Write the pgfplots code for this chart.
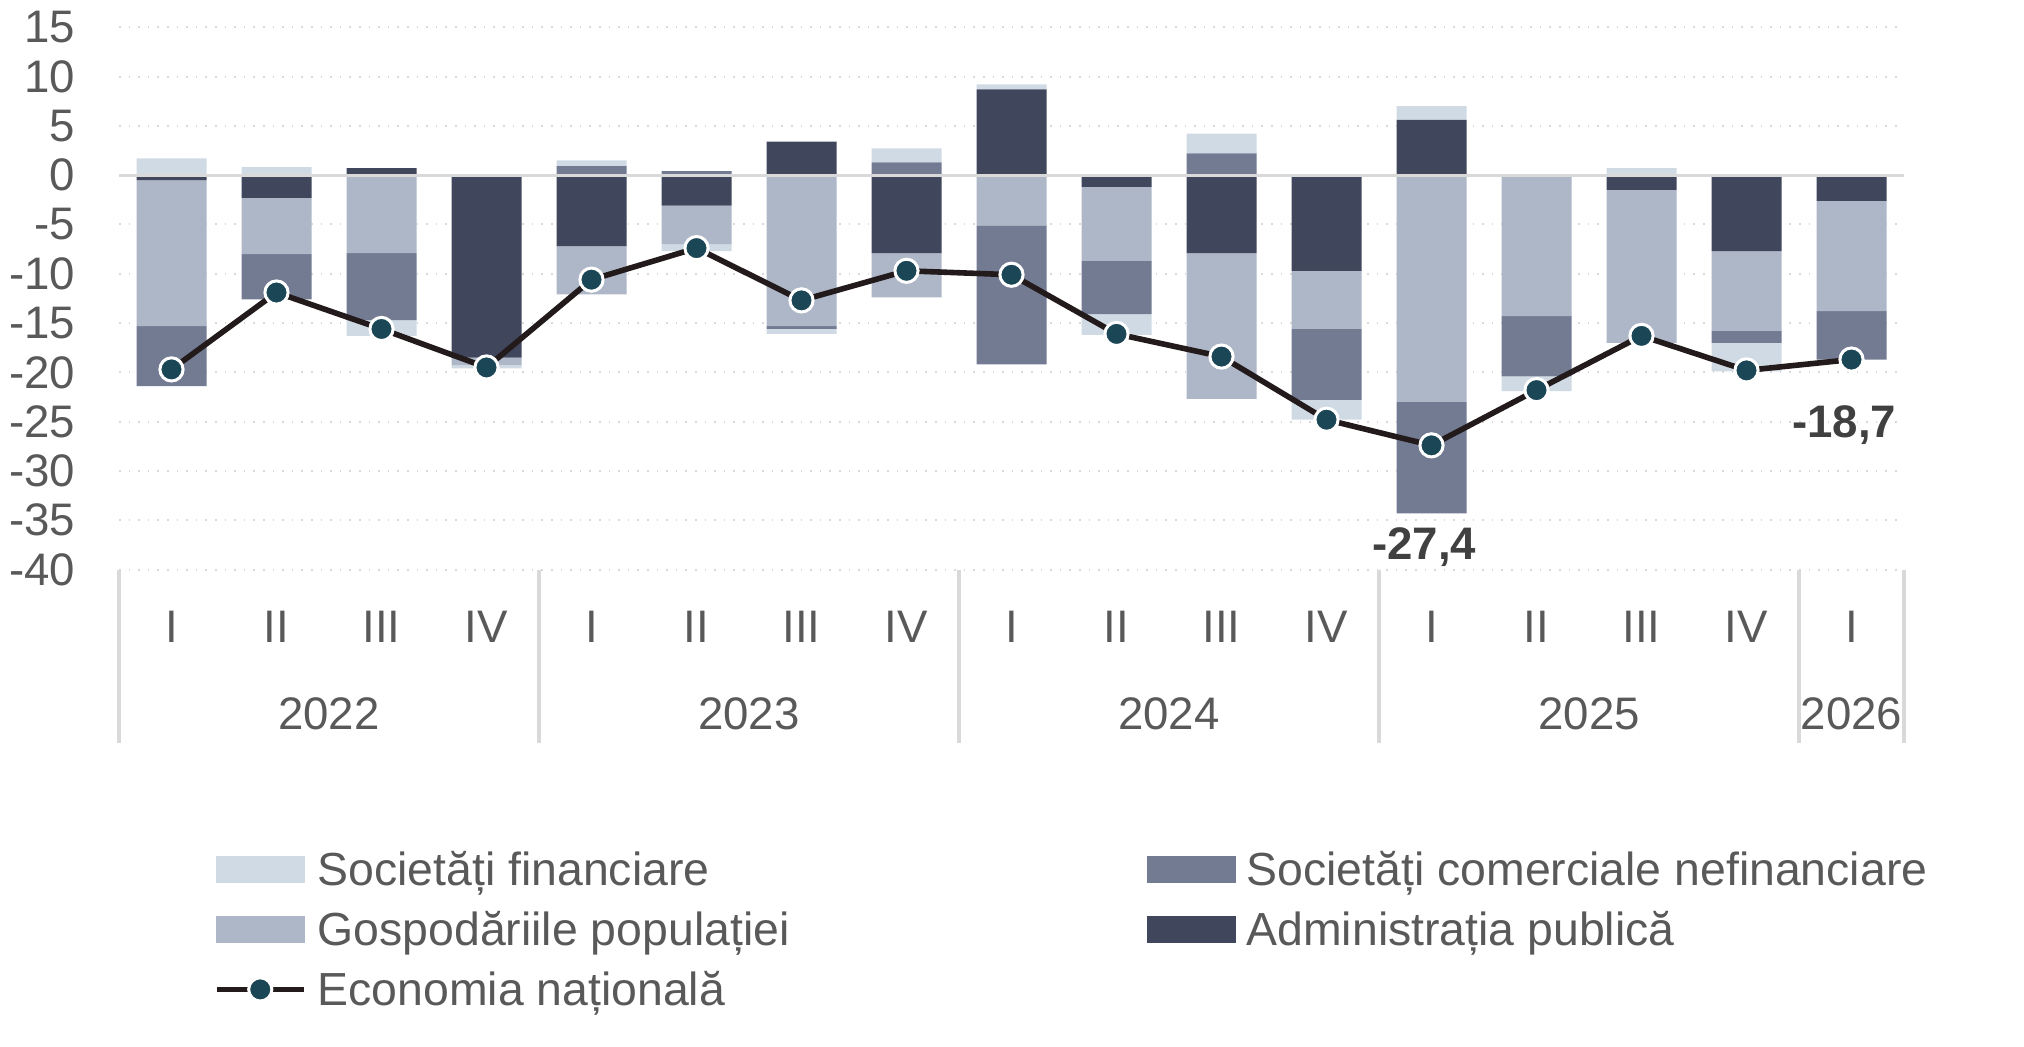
\documentclass[border=0pt]{standalone}
\usepackage{fontspec}
\setmainfont{Liberation Sans}
\usepackage{pgfplots}
\pgfplotsset{compat=1.18}
\usepackage{pgfplotstable}

\definecolor{fincol}{HTML}{D0DAE4}
\definecolor{hhcol}{HTML}{AEB7C7}
\definecolor{nonfincol}{HTML}{737B93}
\definecolor{admincol}{HTML}{40465B}
\definecolor{linecol}{HTML}{231A1B}
\definecolor{markcol}{HTML}{1B4655}
\definecolor{gridcol}{HTML}{D9D9D9}
\definecolor{textcol}{HTML}{595959}
\definecolor{labelcol}{HTML}{404040}
\newcommand{\tickfont}{\fontsize{11.4}{13.5}\selectfont}
\newcommand{\legfont}{\fontsize{11.6}{13.5}\selectfont}

% negative parts of each sector's contribution
\pgfplotstableread{
x fin nonfin hh admin
0 0 -6.1 -14.8 -0.5
1 0 -4.6 -5.7 -2.3
2 -1.6 -6.8 -7.9 0
3 -0.3 0 -0.8 -18.5
4 0 0 -4.9 -7.2
5 -0.7 0 -3.9 -3.1
6 -0.5 -0.3 -15.3 0
7 0 0 -4.5 -7.9
8 0 -14.1 -5.1 0
9 -2.1 -5.4 -7.5 -1.2
10 0 0 -14.8 -7.9
11 -2.0 -7.2 -5.9 -9.7
12 0 -11.3 -23.0 0
13 -1.5 -6.1 -14.3 0
14 0 0 -15.5 -1.5
15 -2.9 -1.2 -8.1 -7.7
16 0 -4.9 -11.2 -2.6
}\negtab

% positive parts
\pgfplotstableread{
x fin nonfin hh admin
0 1.7 0 0 0
1 0.8 0 0 0
2 0 0 0 0.7
3 0 0 0 0
4 0.6 0.9 0 0
5 0 0.4 0 0
6 0 0 0 3.4
7 1.4 1.3 0 0
8 0.5 0 0 8.7
9 0 0 0 0
10 2.0 2.2 0 0
11 0 0 0 0
12 1.4 0 0 5.6
13 0 0 0 0
14 0.7 0 0 0
15 0 0 0 0
16 0 0 0 0
}\postab

\pgfplotstableread{
x y
0 -19.7
1 -11.9
2 -15.6
3 -19.5
4 -10.6
5 -7.4
6 -12.7
7 -9.7
8 -10.1
9 -16.1
10 -18.4
11 -24.8
12 -27.4
13 -21.8
14 -16.3
15 -19.8
16 -18.7
}\totaltab

\pgfplotsset{
  base/.style={scale only axis, width=446.25pt, height=135.6pt,
    at={(0,0)}, anchor=south west,
    xmin=-0.5, xmax=16.5, ymin=-40, ymax=15, enlargelimits=false, clip=false},
  leg/.style={legend style={draw=none, fill=none, inner sep=0pt, outer sep=0pt,
      row sep=5.2pt, column sep=2.75pt,
      nodes={inner sep=0pt, text height=9pt, text depth=0.8pt, text=textcol, font=\legfont},
      legend cell align=left}},
  swatch/.style={legend image code/.code={\fill[#1] (0pt,-3.125pt) rectangle (21.75pt,3.125pt);}},
}

\begin{document}
\begin{tikzpicture}
\useasboundingbox (-29.75pt,-119.35pt) rectangle (476.25pt,142.4pt);

% Axis A: grid, ticks, negative stacks, legend column 1
\begin{axis}[base, ybar stacked, bar width=17.5pt,
  axis line style={draw=none}, major tick length=0pt,
  ymajorgrids, grid style={gridcol, dotted, line width=0.5pt},
  ytick={-40,-35,...,15},
  yticklabel style={anchor=east, inner sep=0pt, xshift=-10.75pt},
  xtick={0,...,16},
  xticklabels={I,II,III,IV,I,II,III,IV,I,II,III,IV,I,II,III,IV,I},
  xticklabel style={anchor=center, inner sep=0pt, yshift=-14.35pt},
  tick label style={font=\tickfont, text=textcol},
  /pgf/number format/assume math mode=true,
  leg, legend style={at={(0.0532,-0.5166)}, anchor=north west}]
\addplot[fill=admincol, draw=none, forget plot] table[x=x, y=admin]{\negtab};
\addplot[fill=hhcol, draw=none, forget plot] table[x=x, y=hh]{\negtab};
\addplot[fill=nonfincol, draw=none, forget plot] table[x=x, y=nonfin]{\negtab};
\addplot[fill=fincol, draw=none, forget plot] table[x=x, y=fin]{\negtab};
\addlegendimage{swatch=fincol}
\addlegendentry{Societăți financiare}
\addlegendimage{swatch=hhcol}
\addlegendentry{Gospodăriile populației}
\addlegendimage{legend image code/.code={
  \draw[linecol, line width=1.4pt] (0pt,0pt) -- (21.75pt,0pt);
  \filldraw[fill=markcol, draw=white, line width=0.75pt] (10.875pt,0pt) circle (2.9pt);}}
\addlegendentry{Economia națională}
\end{axis}

% Axis B: positive stacks
\begin{axis}[base, hide axis, ybar stacked, bar width=17.5pt]
\addplot[fill=admincol, draw=none, forget plot] table[x=x, y=admin]{\postab};
\addplot[fill=hhcol, draw=none, forget plot] table[x=x, y=hh]{\postab};
\addplot[fill=nonfincol, draw=none, forget plot] table[x=x, y=nonfin]{\postab};
\addplot[fill=fincol, draw=none, forget plot] table[x=x, y=fin]{\postab};
\end{axis}

% Axis C: zero line, separators, total line, labels, legend column 2
\begin{axis}[base, hide axis,
  leg, legend style={at={(0.5759,-0.5166)}, anchor=north west}]
\draw[gridcol, line width=0.8pt] (axis cs:-0.5,0) -- (axis cs:16.5,0);
\draw[gridcol, line width=0.8pt] (axis cs:-0.5,-40) -- ++(0pt,-43.35pt);
\draw[gridcol, line width=0.8pt] (axis cs:3.5,-40) -- ++(0pt,-43.35pt);
\draw[gridcol, line width=0.8pt] (axis cs:7.5,-40) -- ++(0pt,-43.35pt);
\draw[gridcol, line width=0.8pt] (axis cs:11.5,-40) -- ++(0pt,-43.35pt);
\draw[gridcol, line width=0.8pt] (axis cs:15.5,-40) -- ++(0pt,-43.35pt);
\draw[gridcol, line width=0.8pt] (axis cs:16.5,-40) -- ++(0pt,-43.35pt);
\node[font=\tickfont, text=textcol, yshift=-36.1pt] at (axis cs:1.5,-40) {2022};
\node[font=\tickfont, text=textcol, yshift=-36.1pt] at (axis cs:5.5,-40) {2023};
\node[font=\tickfont, text=textcol, yshift=-36.1pt] at (axis cs:9.5,-40) {2024};
\node[font=\tickfont, text=textcol, yshift=-36.1pt] at (axis cs:13.5,-40) {2025};
\node[font=\tickfont, text=textcol, yshift=-36.1pt] at (axis cs:16,-40) {2026};
\addplot[linecol, line width=1.4pt, mark=*, mark size=2.9pt,
  mark options={fill=markcol, draw=white, line width=0.75pt}, forget plot]
  table[x=x, y=y]{\totaltab};
\node[font=\tickfont\bfseries, text=labelcol] at (axis cs:11.93,-37.7) {-27,4};
\node[font=\tickfont\bfseries, text=labelcol] at (axis cs:15.93,-25.3) {-18,7};
\addlegendimage{swatch=nonfincol}
\addlegendentry{Societăți comerciale nefinanciare}
\addlegendimage{swatch=admincol}
\addlegendentry{Administrația publică}
\end{axis}
\end{tikzpicture}
\end{document}
